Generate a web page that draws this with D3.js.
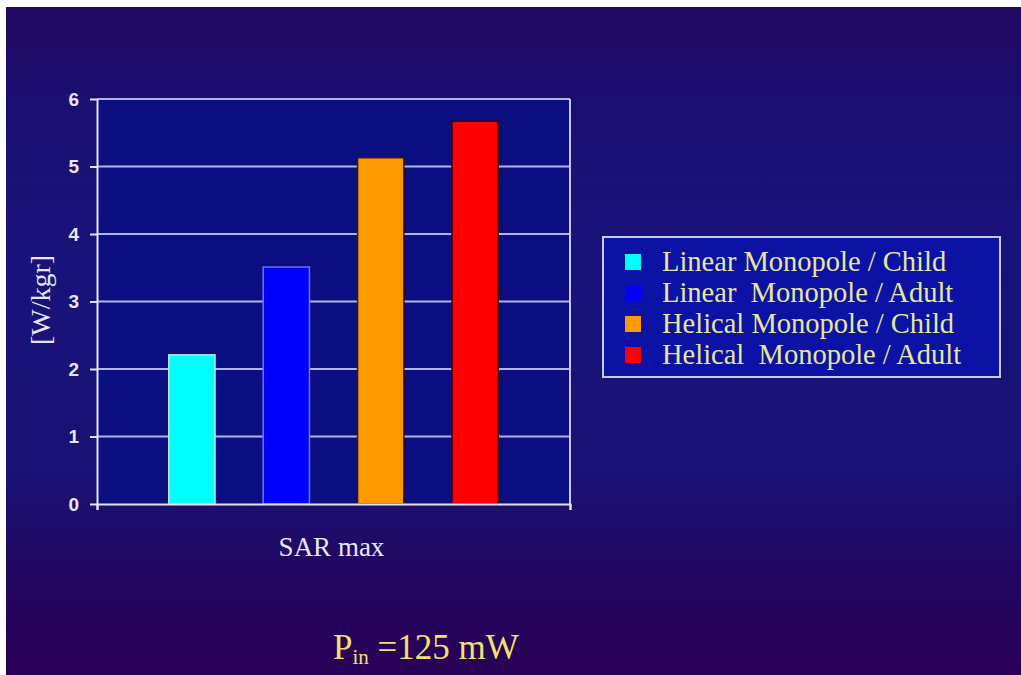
<!DOCTYPE html>
<html>
<head>
<meta charset="utf-8">
<script src="https://cdn.jsdelivr.net/npm/d3@7"></script>
<style>
  html, body { margin: 0; padding: 0; background: #fff; }
  svg { display: block; }
</style>
</head>
<body>
<div id="main"></div>
<script>
// values
var category = 'SAR max';
var series = ['Linear Monopole / Child', 'Linear  Monopole / Adult',
              'Helical Monopole / Child', 'Helical  Monopole / Adult'];
var values = [2.21, 3.51, 5.13, 5.67];
var yTicks = [0, 1, 2, 3, 4, 5, 6];
var yLabel = '[W/kgr]';
var power = '125 mW';

var W = 1021, H = 675;
var plot = {left: 97, right: 570, top: 99, bottom: 504};

var svg = d3.select('#main').append('svg')
    .attr('width', W).attr('height', H);

var defs = svg.append('defs');
var grad = defs.append('linearGradient')
    .attr('id', 'bg').attr('x1', 0).attr('y1', 0).attr('x2', 0).attr('y2', 1);
[[0, '#22085f'], [0.12, '#1c0e70'], [0.4, '#18137b'], [0.7, '#1a1174'],
 [0.86, '#22065f'], [1, '#290056']].forEach(function(s) {
  grad.append('stop').attr('offset', s[0]).attr('stop-color', s[1]);
});

// slide background (white strip at top / left like the scan)
svg.append('rect').attr('x', 6).attr('y', 7)
    .attr('width', W - 6).attr('height', H - 7)
    .attr('fill', 'url(#bg)');

var y = d3.scaleLinear().domain([0, 6]).range([plot.bottom, plot.top]);
var x = d3.scaleBand().domain(series)
    .range([plot.left, plot.right])
    .paddingInner(0.51).paddingOuter(0.76);

var color = d3.scaleOrdinal().domain(series)
    .range(['#00ffff', '#0000ff', '#ff9900', '#ff0000']);
var edge = d3.scaleOrdinal().domain(series)
    .range(['#b0e8ff', '#7070ff', '#3a1a00', '#400000']);

// plot area
svg.append('rect')
    .attr('x', plot.left).attr('y', plot.top)
    .attr('width', plot.right - plot.left).attr('height', plot.bottom - plot.top)
    .attr('fill', '#0b0e80');

// gridlines
svg.append('g').selectAll('line').data(yTicks.slice(1))
  .enter().append('line')
    .attr('x1', plot.left).attr('x2', plot.right)
    .attr('y1', function(d) { return y(d); })
    .attr('y2', function(d) { return y(d); })
    .attr('stroke', '#b4b4e6').attr('stroke-width', 2);

// right border of the plot area
svg.append('line')
    .attr('x1', plot.right).attr('x2', plot.right)
    .attr('y1', plot.top).attr('y2', plot.bottom)
    .attr('stroke', '#c8c8ee').attr('stroke-width', 2);

// bars
svg.append('g').selectAll('rect').data(values)
  .enter().append('rect')
    .attr('x', function(d, i) { return x(series[i]); })
    .attr('width', x.bandwidth())
    .attr('y', function(d) { return y(d); })
    .attr('height', function(d) { return y(0) - y(d); })
    .attr('fill', function(d, i) { return color(series[i]); })
    .attr('stroke', function(d, i) { return edge(series[i]); })
    .attr('stroke-width', 1.5);

// y axis
var yAxis = svg.append('g')
    .attr('transform', 'translate(' + plot.left + ',0)')
    .call(d3.axisLeft(y).tickValues(yTicks).tickFormat(d3.format('d'))
      .tickSize(7).tickSizeOuter(0).tickPadding(11));
yAxis.select('.domain').attr('stroke', '#e4e4f6').attr('stroke-width', 2);
yAxis.selectAll('.tick line').attr('stroke', '#e4e4f6').attr('stroke-width', 2);
yAxis.selectAll('.tick text')
    .attr('fill', '#e8e8f2')
    .style('font-family', '"Liberation Sans", Arial, sans-serif')
    .style('font-weight', 'bold')
    .style('font-size', '19px');

// x axis
var xAxis = svg.append('g')
    .attr('transform', 'translate(0,' + plot.bottom + ')')
    .call(d3.axisBottom(d3.scaleLinear().domain([0, 1]).range([plot.left, plot.right]))
      .tickValues([0, 1]).tickSize(6).tickFormat(''));
xAxis.select('.domain').attr('stroke', '#e4e4f6').attr('stroke-width', 2);
xAxis.selectAll('.tick line').attr('stroke', '#e4e4f6').attr('stroke-width', 2);

svg.append('text')
    .attr('x', (plot.left + plot.right) / 2 - 2).attr('y', 556)
    .attr('text-anchor', 'middle')
    .attr('fill', '#e6e6f4')
    .style('font-family', '"Liberation Serif", "Times New Roman", serif')
    .style('font-size', '27px')
    .text(category);

svg.append('text')
    .attr('transform', 'translate(50,300) rotate(-90)')
    .attr('text-anchor', 'middle')
    .attr('fill', '#e6e6f4')
    .style('font-family', '"Liberation Serif", "Times New Roman", serif')
    .style('font-size', '28px')
    .text(yLabel);

// legend
var legend = svg.append('g').attr('transform', 'translate(603,237)');
legend.append('rect')
    .attr('width', 397).attr('height', 140)
    .attr('fill', '#0b12a4')
    .attr('stroke', '#c8c8f0').attr('stroke-width', 2);

var rows = legend.selectAll('g.row').data(series)
  .enter().append('g')
    .attr('class', 'row')
    .attr('transform', function(d, i) { return 'translate(0,' + (34 + i * 31) + ')'; });

rows.append('rect')
    .attr('x', 22).attr('y', -17)
    .attr('width', 16).attr('height', 16)
    .attr('fill', function(d) { return color(d); });

rows.append('text')
    .attr('x', 59)
    .attr('fill', '#e6e69c')
    .style('font-family', '"Liberation Serif", "Times New Roman", serif')
    .style('font-size', '28.5px')
    .style('white-space', 'pre')
    .text(function(d) { return d; });

// input power note
var note = svg.append('text')
    .attr('x', 333).attr('y', 659)
    .attr('fill', '#f2e070')
    .style('font-family', '"Liberation Serif", "Times New Roman", serif')
    .style('font-size', '35px')
    .style('white-space', 'pre');
note.append('tspan').text('P');
note.append('tspan').attr('dy', 5).style('font-size', '21px').text('in');
note.append('tspan').attr('dy', -5).text(' =' + power);
</script>
</body>
</html>
